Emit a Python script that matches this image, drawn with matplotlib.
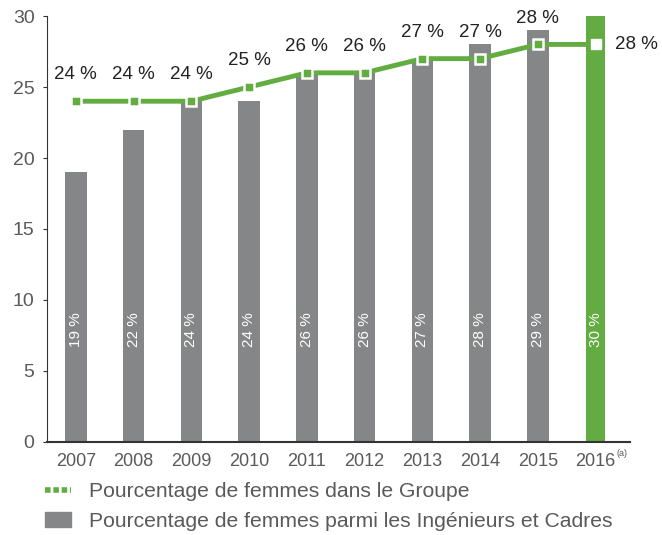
import matplotlib
matplotlib.use('Agg')
import matplotlib.pyplot as plt
from matplotlib.lines import Line2D
from matplotlib.patches import Patch

years = ['2007', '2008', '2009', '2010', '2011', '2012', '2013', '2014', '2015', '2016']
cadres = [19, 22, 24, 24, 26, 26, 27, 28, 29, 30]
groupe = [24, 24, 24, 25, 26, 26, 27, 27, 28, 28]

grey = '#858688'
green = '#62ac41'
txt = '#5a5a5a'
plt.rcParams['font.family'] = ['Liberation Sans', 'DejaVu Sans']

fig = plt.figure(figsize=(6.62, 5.35), dpi=100)
ax = fig.add_axes([0.071, 0.174, 0.881, 0.796])
xs = list(range(len(years)))

colors = [grey] * (len(years) - 1) + [green]
widths = [0.37] * (len(years) - 1) + [0.32]
ax.bar(xs, cadres, width=widths, color=colors, zorder=2)
for x, v in zip(xs, cadres):
    ax.text(x, 7.9, '%d %%' % v, rotation=90, color='white', ha='center', va='center',
            fontsize=11, zorder=3)

ax.plot(xs, groupe, color=green, lw=3.5, zorder=4)
ax.plot(xs[:-1], groupe[:-1], 's', ms=7, mfc=green, mec='white', mew=1.8, zorder=5)
ax.plot(xs[-1], groupe[-1], 's', ms=7, mfc='white', mec='white', zorder=5)
for x, v in zip(xs[:-1], groupe[:-1]):
    ax.text(x, v + 1.25, '%d %%' % v, ha='center', va='bottom', fontsize=13.5,
            color='#222222')
ax.text(xs[-1] + 0.33, groupe[-1], '%d %%' % groupe[-1], ha='left', va='center',
        fontsize=13.5, color='#222222')

ax.set_ylim(0, 30)
ax.set_xlim(-0.5, 9.6)
ax.set_yticks(range(0, 31, 5))
ax.set_xticks(xs)
ax.set_xticklabels(years)
ax.tick_params(axis='x', length=0, pad=8, labelsize=13, labelcolor=txt)
ax.tick_params(axis='y', length=3, width=0.8, color='#333333', labelsize=14, labelcolor=txt, pad=6)
for s in ['top', 'right']:
    ax.spines[s].set_visible(False)
ax.spines['left'].set_color('#333333')
ax.spines['bottom'].set_color('#333333')
ax.spines['bottom'].set_linewidth(1.5)
ax.text(xs[-1] + 0.36, -0.85, '(a)', fontsize=6.5, color=txt, ha='left', va='center')

handles = [Line2D([0], [0], color=green, lw=4, linestyle=(0, (1, 0.5))),
           Patch(color=grey)]
labels = ['Pourcentage de femmes dans le Groupe',
          'Pourcentage de femmes parmi les Ingénieurs et Cadres']
fig.legend(handles, labels, loc='lower left', bbox_to_anchor=(0.04, -0.028), frameon=False,
           prop={'size': 15.2}, labelcolor=txt,
           handlelength=1.2, labelspacing=0.5, handletextpad=0.85)

fig.savefig('out.png', dpi=100)
